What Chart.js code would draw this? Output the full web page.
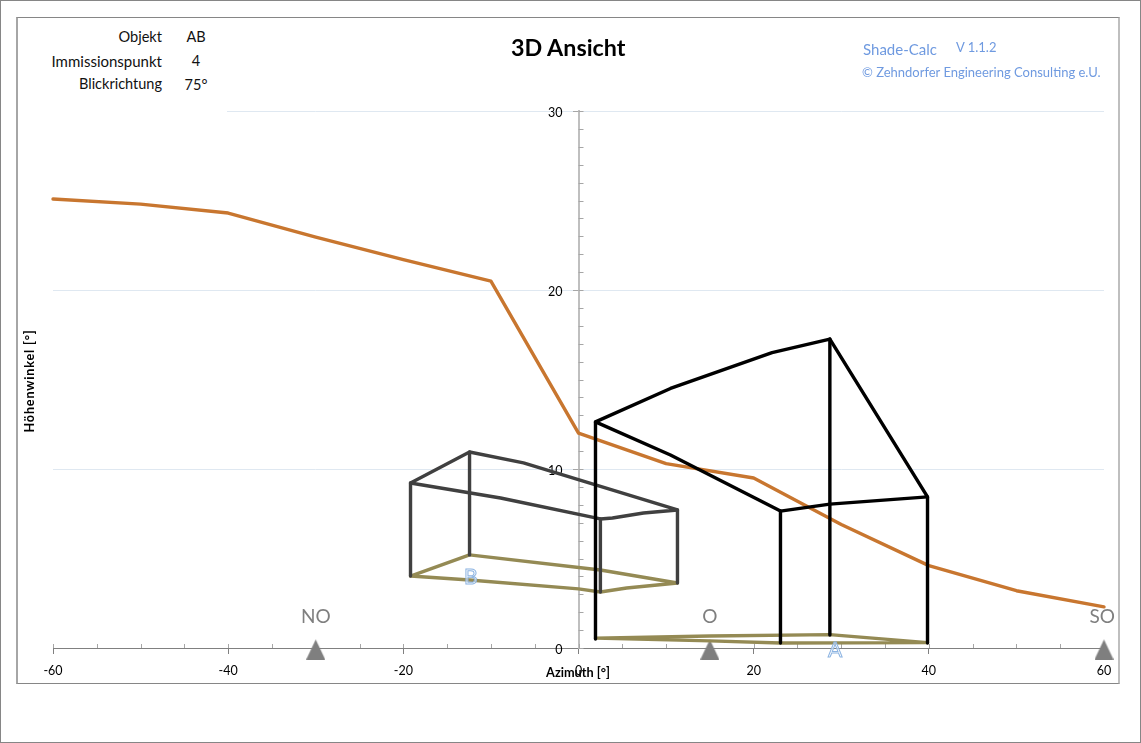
<!DOCTYPE html>
<html lang="de">
<head>
<meta charset="utf-8">
<title>3D Ansicht</title>
<script src="https://cdn.jsdelivr.net/npm/chart.js@4"></script>
<style>
    html, body { margin: 0; padding: 0; background: #fff; }
    body { position: relative; width: 1141px; height: 743px; overflow: hidden; font-family: Lato, sans-serif; }
    canvas { position: absolute; left: 0; top: 0; }
    .moldura { position: absolute; box-sizing: border-box; pointer-events: none; }
    #externa { left: 0; top: 0; width: 1141px; height: 743px; border: 1px solid #868686; }
    #interna { left: 16px; top: 17px; width: 1104px; height: 667px; border: 1px solid #868686; border-left: 2px solid #a6a6a6; border-right: 2px solid #bfbfbf; }
    .texto { position: absolute; white-space: nowrap; line-height: 1; }
    #cabecalho { position: absolute; left: 18px; top: 18px; width: 209px; height: 100px; background: #fff; }
    .rotulo { right: 979px; font-size: 15px; color: #111; }
    .valor { left: 156px; width: 80px; text-align: center; font-size: 14.5px; color: #111; }
    .azul { color: #6f9ae0; }
</style>
</head>
<body>
<canvas id="grafico" width="1141" height="743"></canvas>
<div id="externa" class="moldura"></div>
<div id="interna" class="moldura"></div>
<div id="cabecalho"></div>
<div class="texto rotulo" style="top:30px;font-size:14.6px">Objekt</div>
<div class="texto rotulo" style="top:54px">Immissionspunkt</div>
<div class="texto rotulo" style="top:77px;font-size:14.5px">Blickrichtung</div>
<div class="texto valor" style="top:30px">AB</div>
<div class="texto valor" style="top:54px">4</div>
<div class="texto valor" style="top:78px">75°</div>
<div class="texto" style="left:511px;top:36px;font-size:23.3px;font-weight:700;color:#000">3D Ansicht</div>
<div class="texto azul" style="left:863px;top:42px;font-size:15px">Shade-Calc</div>
<div class="texto azul" style="left:956px;top:41px;font-size:13px">V 1.1.2</div>
<div class="texto azul" style="left:862px;top:66px;font-size:13px">© Zehndorfer Engineering Consulting e.U.</div>

<script>
document.addEventListener('DOMContentLoaded', () => {

    const PRETO = '#000000';
    const CINZA = '#404040';
    const OLIVA = '#948a54';
    const LARANJA = '#c8762f';
    const MARCADOR = '#7f7f7f';

    // --- DADOS: [azimute, altura] ---

    const horizonte = [
        [-60, 25.08], [-50, 24.8], [-40, 24.3], [-30, 22.96], [-20, 21.7], [-10, 20.5], [0, 12.0],
        [10, 10.3], [20, 9.5], [30, 6.9], [40, 4.6], [50, 3.2], [60, 2.3]
    ];

    const predioA = [
        [[1.94, 12.63], [10.5, 14.5], [22.1, 16.5], [28.7, 17.26], [39.85, 8.44], [28.7, 8.04], [23.06, 7.65], [10.5, 10.78], [1.94, 12.63]],
        [[1.94, 12.63], [1.94, 0.5]],
        [[23.06, 7.65], [23.06, 0.28]],
        [[28.7, 17.26], [28.7, 0.73]],
        [[39.85, 8.44], [39.85, 0.28]]
    ];
    const baseA = [
        [[1.94, 0.55], [15, 0.4], [23.06, 0.28], [39.85, 0.3], [28.7, 0.75], [15, 0.67], [1.94, 0.55]]
    ];

    const predioB = [
        [[-19.18, 9.22], [-12.44, 10.95], [-6.28, 10.34], [11.3, 7.71], [7.42, 7.54], [3.88, 7.26], [2.5, 7.21], [-8.9, 8.38], [-19.18, 9.22]],
        [[-19.18, 9.22], [-19.18, 4.02]],
        [[-12.44, 10.95], [-12.44, 5.2]],
        [[2.5, 7.21], [2.5, 3.13]],
        [[11.3, 7.71], [11.3, 3.63]]
    ];
    const baseB = [
        [[-19.18, 4.02], [-12.44, 5.2], [2.5, 4.36], [11.3, 3.63], [5.5, 3.35], [2.5, 3.13], [0, 3.3], [-12.44, 3.8], [-19.18, 4.02]]
    ];

    const direcoes = [[-30, 0], [15, 0], [60, 0]];

    const rotulosDirecao = [
        { texto: 'NO', x: -30, y: 1.73 },
        { texto: 'O', x: 15, y: 1.73 },
        { texto: 'SO', x: 59.8, y: 1.73 }
    ];
    const rotulosPredio = [
        { texto: 'A', x: 29.3, y: -0.1 },
        { texto: 'B', x: -12.3, y: 3.97 }
    ];

    function paraPontos(lista) {
        return lista.map(p => ({ x: p[0], y: p[1] }));
    }

    function criarLinhas(nome, linhas, cor) {
        return linhas.map((linha, i) => ({
            label: `${nome} ${i + 1}`,
            data: paraPontos(linha),
            showLine: true,
            borderColor: cor,
            borderWidth: 3.4,
            borderCapStyle: 'round',
            borderJoinStyle: 'round',
            pointRadius: 0,
            clip: false
        }));
    }

    // Triângulo de 19x20 px; a folga em cima desce o centro até a base ficar como no original
    function criarTriangulo() {
        const c = document.createElement('canvas');
        c.width = 19;
        c.height = 23;
        const g = c.getContext('2d');
        g.fillStyle = MARCADOR;
        g.beginPath();
        g.moveTo(9.5, 3);
        g.lineTo(19, 23);
        g.lineTo(0, 23);
        g.closePath();
        g.fill();
        return c;
    }

    // --- TICKS MENORES E TEXTOS SOBRE O GRÁFICO ---

    const textosPlugin = {
        id: 'textosPlugin',
        beforeDatasetsDraw(chart) {
            const { ctx, scales: { x, y } } = chart;
            const y0 = y.getPixelForValue(0);
            const x0 = x.getPixelForValue(0);
            ctx.save();
            ctx.strokeStyle = '#a6a6a6';
            ctx.lineWidth = 1;
            ctx.beginPath();
            for (let v = -60; v <= 60; v += 5) {
                const px = Math.round(x.getPixelForValue(v)) + 0.5;
                ctx.moveTo(px, y0);
                ctx.lineTo(px, y0 - 4);
            }
            for (let v = 0; v <= 30; v += 1) {
                const py = Math.round(y.getPixelForValue(v)) + 0.5;
                ctx.moveTo(x0, py);
                ctx.lineTo(x0 + 5, py);
            }
            ctx.stroke();
            ctx.restore();
        },
        afterDatasetsDraw(chart) {
            const { ctx, scales: { x, y } } = chart;
            ctx.save();
            ctx.textAlign = 'center';
            ctx.textBaseline = 'middle';

            ctx.font = '19px Lato';
            ctx.fillStyle = MARCADOR;
            rotulosDirecao.forEach(r => {
                ctx.fillText(r.texto, x.getPixelForValue(r.x), y.getPixelForValue(r.y));
            });

            ctx.font = '21px Lato';
            ctx.lineWidth = 1;
            ctx.strokeStyle = '#8db4e2';
            ctx.fillStyle = 'rgba(255, 255, 255, 0.6)';
            rotulosPredio.forEach(r => {
                const px = x.getPixelForValue(r.x);
                const py = y.getPixelForValue(r.y);
                ctx.fillText(r.texto, px, py);
                ctx.strokeText(r.texto, px, py);
            });

            // Títulos dos eixos
            ctx.fillStyle = '#000';
            ctx.font = 'bold 12.7px Lato';
            ctx.fillText('Azimuth [°]', 578, 673);
            ctx.translate(30, 381);
            ctx.rotate(-Math.PI / 2);
            ctx.letterSpacing = '0.8px';
            ctx.fillText('Höhenwinkel [°]', 0, 0);
            ctx.restore();
        }
    };

    const datasets = [
        ...criarLinhas('Gebäude A', predioA, PRETO),
        ...criarLinhas('Gebäude B', predioB, CINZA),
        ...criarLinhas('Grundfläche A', baseA, OLIVA),
        ...criarLinhas('Grundfläche B', baseB, OLIVA),
        ...criarLinhas('Horizont', [horizonte], LARANJA),
        {
            label: 'Himmelsrichtung',
            data: paraPontos(direcoes),
            showLine: false,
            pointStyle: criarTriangulo(),
            clip: false
        }
    ];

    new Chart(document.getElementById('grafico').getContext('2d'), {
        type: 'scatter',
        data: { datasets: datasets },
        plugins: [textosPlugin],
        options: {
            responsive: false,
            animation: false,
            devicePixelRatio: 1,
            layout: { padding: { left: 53, top: 111, right: 37, bottom: 95 } },
            plugins: { legend: { display: false }, tooltip: { enabled: false } },
            scales: {
                x: {
                    type: 'linear',
                    position: { y: 0 },
                    min: -60,
                    max: 60,
                    border: { color: '#808080', width: 1 },
                    grid: { drawOnChartArea: false, color: '#808080', tickLength: 5 },
                    ticks: {
                        stepSize: 20,
                        padding: 10,
                        color: '#000',
                        maxRotation: 0,
                        font: { family: 'Lato', size: 12.5 }
                    }
                },
                y: {
                    type: 'linear',
                    position: { x: 0 },
                    min: 0,
                    max: 30,
                    border: { color: '#bfbfbf', width: 2 },
                    grid: { color: '#dfe8f1', tickColor: '#a6a6a6', tickLength: 5 },
                    ticks: {
                        stepSize: 10,
                        color: '#000',
                        labelOffset: 1.5,
                        font: { family: 'Lato', size: 12.5 },
                        // Com eixo em posição de dados o padding é ignorado: os espaços afastam o texto do eixo
                        callback: valor => `${valor}\u00a0\u00a0\u00a0\u00a0\u00a0`
                    }
                }
            }
        }
    });
});
</script>
</body>
</html>
